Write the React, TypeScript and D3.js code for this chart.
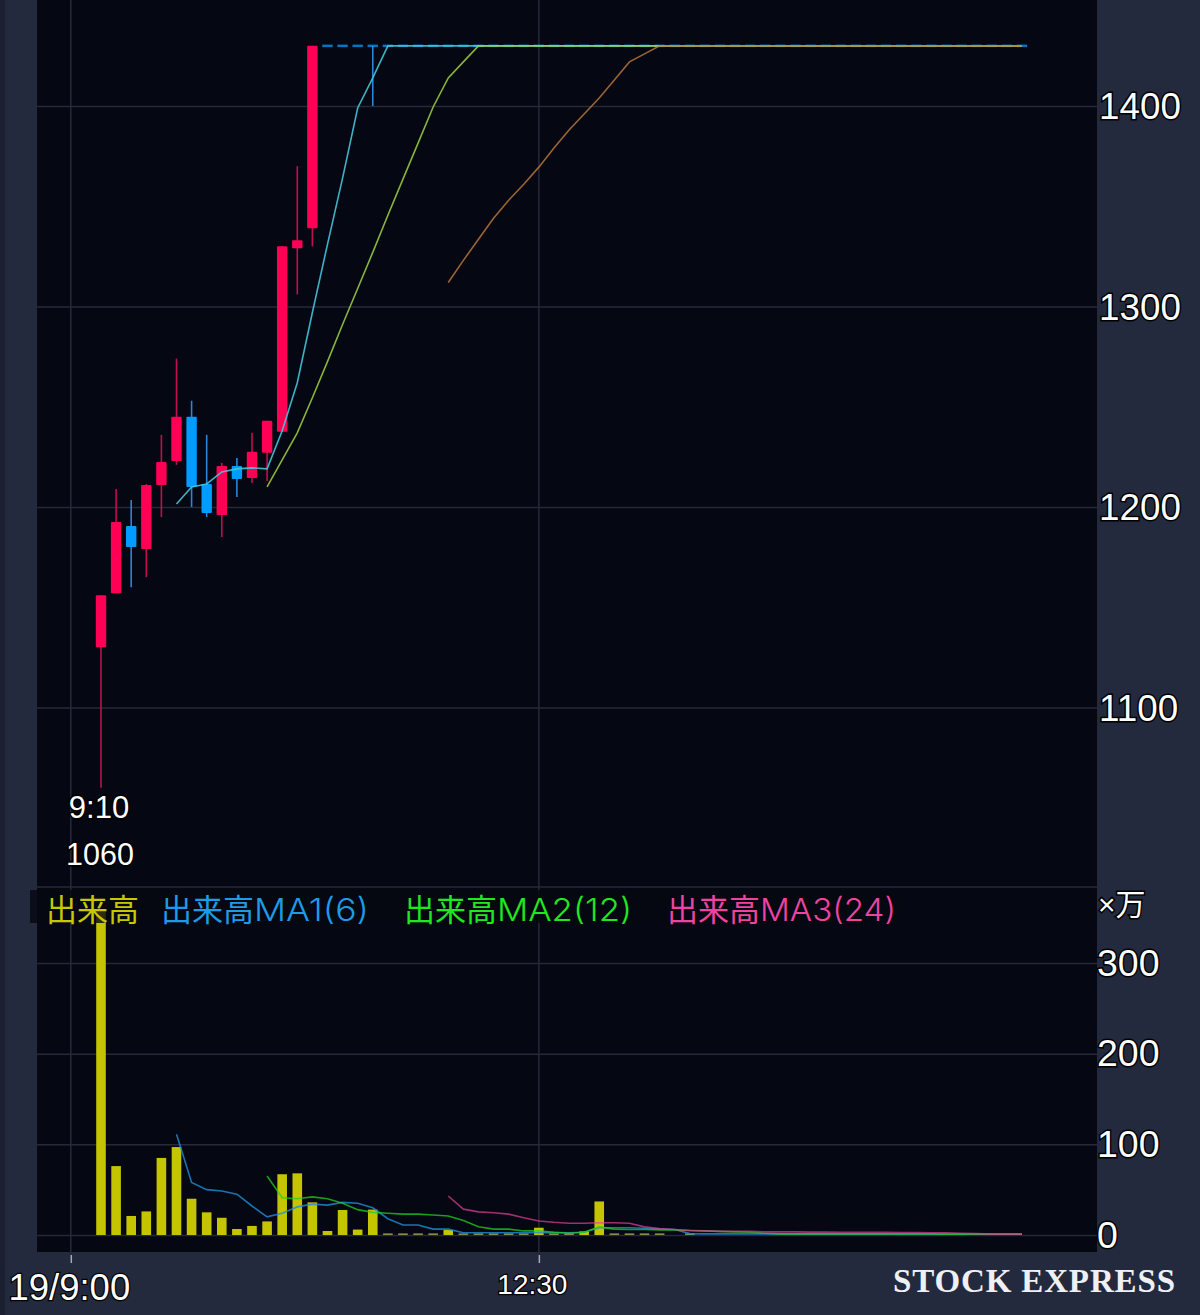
import React, { useEffect, useRef } from 'react';
import * as d3 from 'd3';

// limit-high run, one value per 5 min bar from the 16th bar on
const flatRun = [
  1430, 1430, 1430, 1430, 1430, 1430, 1430, 1430, 1430, 1430,
  1430, 1430, 1430, 1430, 1430, 1430, 1430, 1430, 1430, 1430,
  1430, 1430, 1430, 1430, 1430, 1430, 1430, 1430, 1430, 1430,
  1430, 1430, 1430, 1430, 1430, 1430, 1430, 1430, 1430, 1430,
  1430, 1430, 1430, 1430, 1430, 1430, 1430,
];
const flatLows = [
  1430, 1430, 1430, 1400, 1430, 1430, 1430, 1430, 1430, 1430,
  1430, 1430, 1430, 1430, 1430, 1430, 1430, 1430, 1430, 1430,
  1430, 1430, 1430, 1430, 1430, 1430, 1430, 1430, 1430, 1430,
  1430, 1430, 1430, 1430, 1430, 1430, 1430, 1430, 1430, 1430,
  1430, 1430, 1430, 1430, 1430, 1430, 1430,
];

const opens = [1130, 1157, 1190.5, 1179, 1211, 1223, 1245, 1211.5, 1196, 1220.5, 1214.5, 1227, 1237.5, 1329, 1339, ...flatRun];
const highs = [1156, 1209, 1203.5, 1211.5, 1236, 1274, 1253, 1236, 1222, 1224.5, 1237, 1243, 1330, 1370, 1430, ...flatRun];
const lows = [1060, 1157, 1160, 1165, 1195, 1221, 1200, 1195, 1185, 1205, 1212, 1213, 1237.5, 1306, 1330, ...flatLows];
const closes = [1156, 1192.5, 1180, 1211, 1222.5, 1245, 1210, 1197, 1220.5, 1214, 1227.5, 1243, 1330, 1333, 1430, ...flatRun];

const n = null;
const priceMa1 = [n, n, n, n, n, 1201.5, 1210, 1211.5, 1217.5, 1219, 1219.5, 1219, 1238, 1262, 1297, 1331, 1364, 1399, 1414, 1430, ...flatRun.slice(-42)];
const priceMa2 = [n, n, n, n, n, n, n, n, n, n, n, 1210, 1223.5, 1237, 1254.5, 1272.5, 1291, 1309, 1327, 1345.5, 1363.5, 1381.5, 1399.5, 1414, 1422, 1430, ...flatRun.slice(-36)];
const priceMa3 = [n, n, n, n, n, n, n, n, n, n, n, n, n, n, n, n, n, n, n, n, n, n, n, 1312, 1323, 1333.5, 1344, 1353, 1361, 1369.5, 1379, 1388, 1396, 1404, 1413, 1422, 1426, 1430, ...flatRun.slice(-24)];

const volumes = [
  357, 76, 21, 26, 85, 97, 40, 25, 19, 6.6, 10, 15, 67, 68, 36, 4.4, 27.6, 6, 28, 1.8,
  1.8, 1.8, 1.8, 5.5, 1.8, 1.8, 1.8, 1.8, 1.8, 8, 1.8, 1.8, 4, 37, 1.8, 1.8, 1.8, 1.8, 0, 1.8,
  0, 0, 0, 0, 0, 0, 0, 0, 0, 0, 0, 0, 0, 0, 0, 0, 0, 0, 0, 0, 0, 0,
];
const volMa1 = [
  n, n, n, n, n, 111, 58, 50, 48.5, 45, 32, 20, 24, 31, 34, 33, 36, 35, 30, 18, 11, 11, 6.5, 6.5, 2.5,
  2.5, 2.5, 2.5, 2.5, 2.5, 2.8, 2.5, 3, 8, 8, 8, 7.5, 6.5, 6, 1.5, 1.2, 1.2, 1.2, 1.2, 1.2, 1, 1, 1,
  1, 1, 1, 1, 1, 1, 1, 1, 0.9, 0.9, 0.9, 0.9, 0.9, 0.9,
];
const volMa2 = [
  n, n, n, n, n, n, n, n, n, n, n, 65, 41, 40, 42, 40, 35, 28, 25, 24, 23, 23, 22, 21, 16, 9, 6.5, 6.5, 4.5,
  4.5, 3, 2, 3, 9, 6.5, 6, 6, 5.5, 5.5, 5, 4.5, 4, 3.5, 3, 2, 1.2, 1.2, 1.2, 1.2, 1.2, 1.2, 1.2, 1.2, 1.2,
  1.2, 1.2, 1, 1, 1, 1, 1, 1,
];
const volMa3 = [
  n, n, n, n, n, n, n, n, n, n, n, n, n, n, n, n, n, n, n, n, n, n, n, 43, 28.5, 25.5, 24.5, 23, 19, 15.5, 14,
  13, 13, 13.5, 13.5, 13, 9, 7, 6, 5, 4.5, 4, 4, 4, 3.5, 3.5, 3.5, 3.2, 3.2, 3, 3, 3, 3, 2.8, 2.8, 2.5, 2.5, 2, 1.5, 1, 1, 1,
];

const priceTicks = [1100, 1200, 1300, 1400];
const volumeTicks = [0, 100, 200, 300];
const timeTicks = new Map([[-2, '19/9:00'], [29, '12:30']]);

const legend = [
  { label: '出来高', suffix: '', color: '#c8c800', x: 46, w: 91 },
  { label: '出来高', suffix: 'MA1(6)', color: '#1e9be8', x: 161, w: 208 },
  { label: '出来高', suffix: 'MA2(12)', color: '#1fe81f', x: 404, w: 228 },
  { label: '出来高', suffix: 'MA3(24)', color: '#ee44a0', x: 667, w: 229 },
];

const SANS = '"Liberation Sans", "Noto Sans CJK JP", sans-serif';
const RED = '#ff0055';
const BLUE = '#009cff';
const GRID = '#262a38';
const PLOT_BG = '#050712';

export default function App() {
  const svgRef = useRef<SVGSVGElement>(null);

  useEffect(() => {
    if (!svgRef.current) return;
    const svg = d3.select(svgRef.current);
    svg.selectAll('*').remove();

    const left = 37;
    const right = 1097;
    const plotBottom = 1252;

    const x = d3.scaleLinear().domain([0, 61]).range([101, 1022]);
    const yPrice = d3.scaleLinear().domain([1400, 1100]).range([106, 707.5]);
    const yVol = d3.scaleLinear().domain([0, 300]).range([1235, 963]);

    // Frame
    svg.append('rect').attr('width', 1200).attr('height', 1315).attr('fill', '#242a3e');
    svg.append('rect').attr('width', 5).attr('height', 1315).attr('fill', '#1b2030');
    svg.append('rect').attr('x', left).attr('width', right - left).attr('height', plotBottom).attr('fill', PLOT_BG);

    const styleAxis = (g: d3.Selection<SVGGElement, unknown, null, undefined>, size: number) => {
      g.select('.domain').remove();
      g.selectAll('.tick line').attr('stroke', GRID).attr('stroke-width', 1.5);
      g.selectAll('.tick text')
        .attr('fill', '#fff')
        .attr('stroke', '#000')
        .attr('stroke-width', 3)
        .attr('paint-order', 'stroke')
        .attr('font-family', SANS)
        .attr('font-size', size);
    };

    // Gridlines double as the value axes
    svg.append('g')
      .attr('transform', `translate(${left},0)`)
      .call(d3.axisRight(yPrice).tickValues(priceTicks).tickFormat(d3.format('d')).tickSize(right - left).tickPadding(2))
      .call((g) => styleAxis(g, 36.8))
      .call((g) => g.selectAll('.tick text').attr('dy', '0.34em'));

    svg.append('g')
      .attr('transform', `translate(${left},0)`)
      .call(d3.axisRight(yVol).tickValues(volumeTicks).tickFormat(d3.format('d')).tickSize(right - left).tickPadding(0))
      .call((g) => styleAxis(g, 37.5));

    svg.append('line')
      .attr('x1', left).attr('x2', right).attr('y1', 887).attr('y2', 887)
      .attr('stroke', GRID).attr('stroke-width', 1.5);

    // Time axis
    const timeAxis = svg.append('g')
      .attr('transform', `translate(0,${plotBottom})`)
      .call(
        d3.axisBottom(x)
          .tickValues([...timeTicks.keys()])
          .tickFormat((d) => timeTicks.get(+d) ?? '')
          .tickSize(11)
      );
    timeAxis.select('.domain').remove();
    timeAxis.selectAll('.tick line').attr('y1', 3).attr('stroke', '#a4aaba').attr('stroke-width', 1.5);
    timeAxis.selectAll('.tick text')
      .attr('fill', '#fff')
      .attr('stroke', '#000')
      .attr('stroke-width', 2.5)
      .attr('paint-order', 'stroke')
      .attr('font-family', SANS)
      .attr('font-size', (d) => (+d! < 0 ? 36.5 : 28))
      .attr('dx', (d) => (+d! < 0 ? -2 : -7))
      .attr('y', 22);

    [-2, 29].forEach((t) => {
      svg.append('line')
        .attr('x1', x(t)).attr('x2', x(t)).attr('y1', 0).attr('y2', plotBottom + 3)
        .attr('stroke', GRID).attr('stroke-width', 1.5);
    });

    // Candles
    const candles = d3.range(opens.length);
    const colorOf = (i: number) => (closes[i] > opens[i] ? RED : BLUE);

    svg.append('g').selectAll('line').data(candles).enter().append('line')
      .attr('x1', (i) => x(i)).attr('x2', (i) => x(i))
      .attr('y1', (i) => yPrice(highs[i])).attr('y2', (i) => yPrice(lows[i]))
      .attr('stroke', (i) => (closes[i] > opens[i] ? '#c20f4f' : '#2a86d8'))
      .attr('stroke-width', 1.6);

    svg.append('g').selectAll('rect').data(candles).enter().append('rect')
      .attr('x', (i) => x(i) - 5.2)
      .attr('width', 10.4)
      .attr('y', (i) => yPrice(Math.max(opens[i], closes[i])) - (opens[i] === closes[i] ? 1.25 : 0))
      .attr('height', (i) => Math.max(2.5, Math.abs(yPrice(opens[i]) - yPrice(closes[i]))))
      .attr('rx', (i) => (opens[i] === closes[i] ? 0 : 1))
      .attr('fill', colorOf)
      .attr('opacity', (i) => (opens[i] === closes[i] ? 0.75 : 1));

    const drawLine = (
      series: (number | null)[],
      yScale: d3.ScaleLinear<number, number>,
      color: string,
      opacity: number
    ) => {
      const line = d3.line<number | null>()
        .defined((d) => d !== null)
        .x((_, i) => x(i))
        .y((d) => yScale(d as number));
      svg.append('path')
        .attr('d', line(series))
        .attr('fill', 'none')
        .attr('stroke', color)
        .attr('stroke-width', 1.6)
        .attr('opacity', opacity);
    };

    drawLine(priceMa1, yPrice, '#45c4dc', 0.9);
    drawLine(priceMa2, yPrice, '#a0d440', 0.85);
    drawLine(priceMa3, yPrice, '#c07c3c', 0.8);

    // Volume
    svg.append('g').selectAll('rect').data(volumes).enter().append('rect')
      .attr('x', (_, i) => x(i) - 4.8)
      .attr('width', 9.6)
      .attr('y', (d) => yVol(d))
      .attr('height', (d) => yVol(0) - yVol(d))
      .attr('fill', (d) => (d < 3 ? '#8a8a50' : '#c4c400'));

    drawLine(volMa1, yVol, '#1e8fd8', 0.8);
    drawLine(volMa2, yVol, '#20d020', 0.75);
    drawLine(volMa3, yVol, '#e0409a', 0.7);

    // Legend sits on a translucent strip that dims what runs under it
    svg.append('rect')
      .attr('x', 30).attr('y', 890).attr('width', 870).attr('height', 33)
      .attr('fill', PLOT_BG).attr('opacity', 0.8);

    const legendRows = svg.append('g').selectAll('g').data(legend).enter().append('g');
    legendRows.append('text')
      .attr('x', (d) => d.x)
      .attr('y', 921)
      .attr('fill', (d) => d.color)
      .attr('font-family', SANS)
      .attr('font-size', 31)
      .text((d) => d.label);
    legendRows.append('text')
      .attr('x', (d) => d.x + 93)
      .attr('y', 921)
      .attr('fill', (d) => d.color)
      .attr('font-family', 'Inter, "Liberation Sans", sans-serif')
      .attr('font-weight', 300)
      .attr('font-size', 31)
      .attr('textLength', (d) => d.w - 93)
      .attr('lengthAdjust', 'spacingAndGlyphs')
      .text((d) => d.suffix);

    const note = (txt: string, px: number, py: number, size: number, anchor = 'middle') =>
      svg.append('text')
        .attr('x', px).attr('y', py)
        .attr('text-anchor', anchor)
        .attr('fill', '#fff')
        .attr('stroke', '#000')
        .attr('stroke-width', 3)
        .attr('paint-order', 'stroke')
        .attr('font-family', SANS)
        .attr('font-size', size)
        .text(txt);

    // Low price callout and unit
    note('9:10', 99, 818, 31);
    note('1060', 100, 865, 30.5);
    note('×万', 1098, 915, 30, 'start');

    svg.append('text')
      .attr('x', 893).attr('y', 1292)
      .attr('fill', '#eef0f4')
      .attr('font-family', '"Liberation Serif", serif')
      .attr('font-weight', 'bold')
      .attr('font-size', 33)
      .attr('textLength', 282)
      .text('STOCK EXPRESS');
  }, []);

  return (
    <svg
      ref={svgRef}
      width={1200}
      height={1315}
      viewBox="0 0 1200 1315"
      style={{ position: 'absolute', top: 0, left: 0, display: 'block' }}
    />
  );
}
